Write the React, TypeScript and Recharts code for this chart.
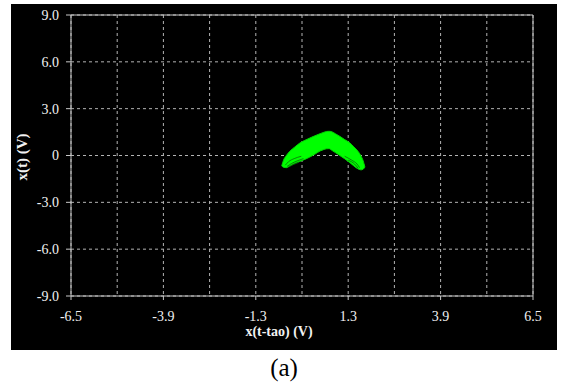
import React from 'react';
import { ComposedChart, Area, Line, XAxis, YAxis, CartesianGrid, ReferenceLine } from 'recharts';

const xTicks = [-6.5, -5.2, -3.9, -2.6, -1.3, 0, 1.3, 2.6, 3.9, 5.2, 6.5];
const xTickLabels = ['-6.5', '', '-3.9', '', '-1.3', '', '1.3', '', '3.9', '', '6.5'];
const yTicks = [-9, -6, -3, 0, 3, 6, 9];
const yTickLabels = ['-9.0', '-6.0', '-3.0', '0', '3.0', '6.0', '9.0'];

// boomerang-shaped attractor band: x positions, upper and lower edges
const shapeX = [-0.57, -0.52, -0.44, -0.34, -0.2, -0.06, 0.08, 0.22, 0.36, 0.51, 0.62, 0.69, 0.76, 0.84, 0.95, 1.07, 1.2, 1.35, 1.46, 1.58, 1.66, 1.72, 1.77];
const shapeUpper = [-0.66, -0.3, 0.0, 0.28, 0.55, 0.8, 0.97, 1.12, 1.26, 1.4, 1.49, 1.54, 1.55, 1.52, 1.38, 1.22, 1.02, 0.8, 0.55, 0.26, -0.03, -0.33, -0.74];
const shapeLower = [-0.66, -0.76, -0.78, -0.66, -0.49, -0.38, -0.25, -0.1, 0.08, 0.29, 0.39, 0.43, 0.44, 0.33, 0.17, -0.01, -0.21, -0.46, -0.67, -0.86, -0.92, -0.88, -0.74];

// darker trajectory strands visible inside the tips
const leftArcA = [[-0.47, -0.62], [-0.38, -0.4], [-0.22, -0.2], [-0.02, -0.05]];
const leftArcB = [[-0.42, -0.7], [-0.3, -0.52], [-0.14, -0.35], [0.04, -0.2]];
const leftArcC = [[-0.36, -0.72], [-0.24, -0.58], [-0.08, -0.43]];
const rightArcD = [[1.2, -0.05], [1.4, -0.3], [1.55, -0.55], [1.62, -0.78]];
const rightArcE = [[1.3, -0.3], [1.48, -0.55], [1.58, -0.82]];

const shapeData = shapeX.map((x, i) => ({ x, range: [shapeLower[i], shapeUpper[i]] }));
const toPts = (a: number[][]) => a.map(([x, y]) => ({ x, y }));
const arcs = [leftArcA, leftArcB, leftArcC, rightArcD, rightArcE];

const AXIS = '#c8c8c8';
const GRID = '#b4b4b4';
const TEXT = '#f2f2f2';
const SERIF = '"Liberation Serif", "Times New Roman", serif';

const XTick = (props: any) => {
  const { x, y, payload } = props;
  const idx = xTicks.findIndex((t) => Math.abs(t - payload.value) < 1e-6);
  const label = idx >= 0 ? xTickLabels[idx] : '';
  if (!label) return <g />;
  return (
    <g>
      <line x1={x} y1={y} x2={x} y2={y + 4} stroke={AXIS} strokeWidth={1} />
      <text x={x} y={y + 25} textAnchor="middle" fill={TEXT} fontSize={14} fontFamily={SERIF}>
        {label}
      </text>
    </g>
  );
};

export default function App() {
  return (
    <div style={{ position: 'absolute', left: 0, top: 0, width: 562, height: 383, background: '#fff' }}>
      <div style={{ position: 'absolute', left: 11, top: 4, width: 546, height: 346, background: '#000' }}>
        <ComposedChart
          width={546}
          height={346}
          data={shapeData}
          margin={{ top: 11, right: 24, bottom: 0, left: 0 }}
        >
          <CartesianGrid stroke={GRID} strokeDasharray="3 3" />
          <XAxis
            type="number"
            dataKey="x"
            domain={[-6.5, 6.5]}
            ticks={xTicks}
            interval={0}
            allowDataOverflow
            height={54}
            tickSize={0}
            tickMargin={0}
            tickLine={false}
            axisLine={{ stroke: AXIS, strokeWidth: 1 }}
            tick={<XTick />}
          />
          <YAxis
            type="number"
            domain={[-9, 9]}
            ticks={yTicks}
            interval={0}
            allowDataOverflow
            width={60}
            tickSize={5}
            tickMargin={7}
            tickLine={{ stroke: AXIS }}
            axisLine={{ stroke: AXIS, strokeWidth: 1 }}
            tick={{ fill: TEXT, fontSize: 14, fontFamily: SERIF }}
            tickFormatter={(v: number) => yTickLabels[yTicks.indexOf(v)] ?? String(v)}
          />
          <ReferenceLine y={9} stroke={AXIS} strokeWidth={1} />
          <ReferenceLine x={6.5} stroke={AXIS} strokeWidth={1} />
          <Area
            dataKey="range"
            type="monotone"
            fill="#00ff00"
            fillOpacity={1}
            stroke="#00d400"
            strokeWidth={1}
            isAnimationActive={false}
            dot={false}
            activeDot={false}
          />
          {arcs.map((a, i) => (
            <Line
              key={i}
              data={toPts(a)}
              dataKey="y"
              type="monotone"
              stroke="#0a6a0a"
              strokeWidth={0.8}
              dot={false}
              activeDot={false}
              isAnimationActive={false}
            />
          ))}
        </ComposedChart>
      </div>
      <div
        style={{
          position: 'absolute',
          left: 179,
          top: 325,
          width: 200,
          textAlign: 'center',
          color: TEXT,
          fontFamily: SERIF,
          fontWeight: 'bold',
          fontSize: 14,
          lineHeight: '14px',
        }}
      >
        x(t-tao) (V)
      </div>
      <div
        style={{
          position: 'absolute',
          left: 22 - 50,
          top: 157 - 8,
          width: 100,
          height: 16,
          textAlign: 'center',
          color: TEXT,
          fontFamily: SERIF,
          fontWeight: 'bold',
          fontSize: 15,
          lineHeight: '16px',
          transform: 'rotate(-90deg)',
        }}
      >
        x(t) (V)
      </div>
      <div
        style={{
          position: 'absolute',
          left: 234,
          top: 355,
          width: 100,
          textAlign: 'center',
          color: '#000',
          fontFamily: SERIF,
          fontSize: 25,
          lineHeight: '25px',
        }}
      >
        (a)
      </div>
    </div>
  );
}
